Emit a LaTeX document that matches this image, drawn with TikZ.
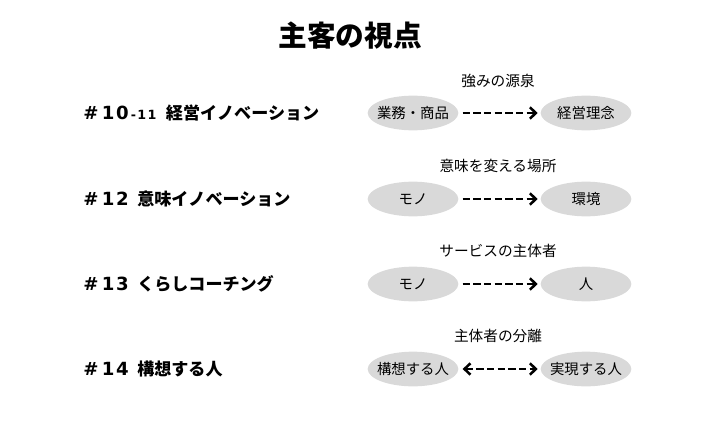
\documentclass[tikz,border=0pt]{standalone}
\usepackage{fontspec}
\setmainfont{Noto Sans CJK JP}
\newfontfamily\numfont{DejaVu Sans}
\usetikzlibrary{arrows.meta,shapes.geometric}
\newcommand{\numstyle}{\numfont\bfseries\fontsize{13.6}{15}\selectfont\addfontfeature{LetterSpace=10}}
\newcommand{\numlabel}[2]{\makebox[#1][l]{\numstyle\#\hspace{2.5pt}#2}}
\tikzset{
  px/.style={x=0.75pt,y=-0.75pt},
  oval/.style={ellipse,fill=black!15,minimum width=68pt,minimum height=26pt,inner ysep=0pt,inner xsep=-14pt,font=\fontsize{10.8}{12}\selectfont},
  captext/.style={font=\fontsize{11}{13}\selectfont},
  rowtext/.style={anchor=west,font=\bfseries\fontsize{12.8}{15}\selectfont,inner sep=0pt},
  barb/.tip={Straight Barb[length=4.5pt,width=8.5pt,line width=1.9pt]},
  flow/.style={dash pattern=on 5.5pt off 2.5pt,line width=2.1pt,shorten >=2pt,shorten <=3pt,-barb},
  flowtwo/.style={flow,barb-barb}
}
\begin{document}
\begin{tikzpicture}[px]
\useasboundingbox (0,0) rectangle (702,424);
\node[font=\bfseries\fontsize{21.5}{25}\selectfont] (title) at (350,36) {主客の視点};
% row 1
\node[rowtext] (l1) at (83,113) {\makebox[62pt][l]{\numstyle\#\hspace{2.5pt}10{\fontsize{9.5}{10}\selectfont\,-11}}経営イノベーション};
\node[captext] (c1) at (498,81) {強みの源泉};
\node[oval] (a1) at (413,113) {業務・商品};
\node[oval] (b1) at (586,113) {経営理念};
\draw[flow] (a1) -- (b1);
% row 2
\node[rowtext] (l2) at (83,199) {\numlabel{40.5pt}{12}意味イノベーション};
\node[captext] (c2) at (498,166) {意味を変える場所};
\node[oval] (a2) at (413,199) {モノ};
\node[oval] (b2) at (586,199) {環境};
\draw[flow] (a2) -- (b2);
% row 3
\node[rowtext] (l3) at (83,284) {\numlabel{40.5pt}{13}くらしコーチング};
\node[captext] (c3) at (498,251) {サービスの主体者};
\node[oval] (a3) at (413,284) {モノ};
\node[oval] (b3) at (586,284) {人};
\draw[flow] (a3) -- (b3);
% row 4
\node[rowtext] (l4) at (83,369) {\numlabel{40.5pt}{14}構想する人};
\node[captext] (c4) at (498,336) {主体者の分離};
\node[oval] (a4) at (413,369) {構想する人};
\node[oval] (b4) at (586,369) {実現する人};
\draw[flowtwo] (a4) -- (b4);
\end{tikzpicture}
\end{document}
